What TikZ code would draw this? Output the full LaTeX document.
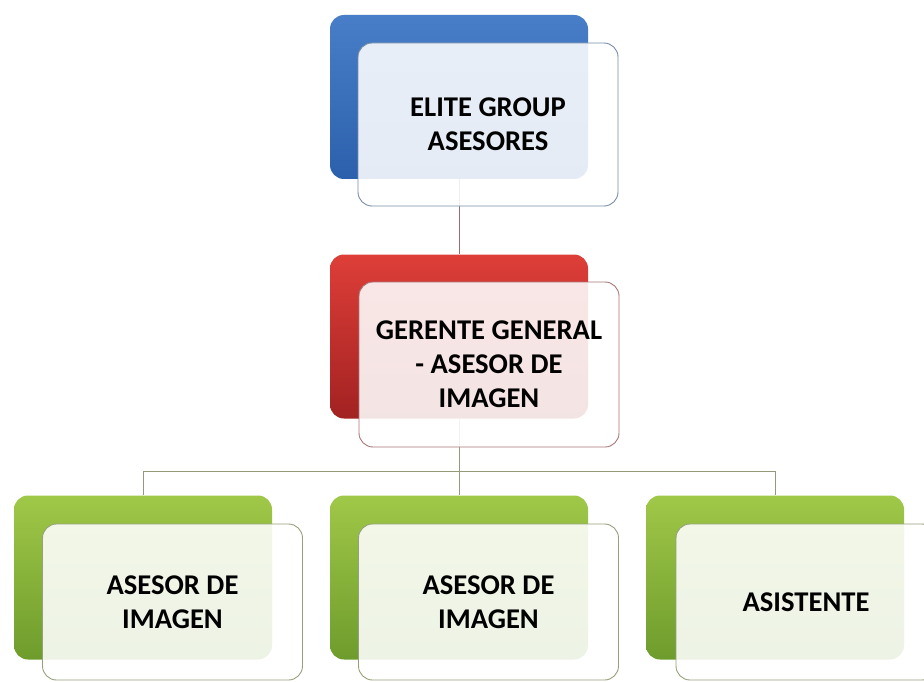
\documentclass[tikz,border=0pt]{standalone}
\usepackage{fontspec}
\setmainfont{Carlito}
\usepackage{xcolor}
\usepackage{tikz}

\definecolor{blueTop}{RGB}{72,126,200}
\definecolor{blueBot}{RGB}{44,96,172}
\definecolor{redTop}{RGB}{222,62,56}
\definecolor{redBot}{RGB}{162,34,34}
\definecolor{greenTop}{RGB}{160,200,72}
\definecolor{greenBot}{RGB}{110,156,44}
\definecolor{blueEdge}{RGB}{118,140,168}
\definecolor{redEdge}{RGB}{168,118,118}
\definecolor{greenEdge}{RGB}{150,160,122}
\definecolor{redLink}{RGB}{150,112,112}
\definecolor{greenLink}{RGB}{150,152,122}

\begin{document}
\begin{tikzpicture}[x=1pt, y=-1pt,
    back/.style={rounded corners=14pt, minimum width=258pt, minimum height=164pt, inner sep=0pt},
    front/.style={draw, line width=0.9pt, rounded corners=14pt, fill=white, fill opacity=0.88,
        text opacity=1, minimum width=260pt, align=center, inner sep=0pt,
        font=\fontsize{28.6}{34}\selectfont\bfseries},
    link/.style={line width=1pt}]
    \useasboundingbox (0,0) rectangle (924,682);

    % Back boxes
    \node[back, top color=blueTop, bottom color=blueBot] (eliteBack) at (459,97) {};
    \node[back, top color=redTop, bottom color=redBot] (gerenteBack) at (459,336.5) {};
    \node[back, top color=greenTop, bottom color=greenBot] (asesorOneBack) at (143,577.5) {};
    \node[back, top color=greenTop, bottom color=greenBot] (asesorTwoBack) at (459,577.5) {};
    \node[back, top color=greenTop, bottom color=greenBot] (asistenteBack) at (775,577.5) {};

    % Connectors
    \coordinate (bus) at (459,471);
    \draw[link, redLink] (eliteBack.south) -- (gerenteBack.north);
    \draw[link, greenLink] (gerenteBack.south) -- (bus) -| (asesorOneBack.north);
    \draw[link, greenLink] (bus) -| (asistenteBack.north);
    \draw[link, greenLink] (bus) -- (asesorTwoBack.north);

    % Front boxes
    \node[front, draw=blueEdge, minimum height=163pt] (elite) at (488,124.5) {ELITE GROUP\\ASESORES};
    \node[front, draw=redEdge, minimum height=165pt] (gerente) at (489,364.5) {GERENTE GENERAL\\- ASESOR DE\\IMAGEN};
    \node[front, draw=greenEdge, minimum height=156pt] (asesorOne) at (172.5,602) {ASESOR DE\\IMAGEN};
    \node[front, draw=greenEdge, minimum height=156pt] (asesorTwo) at (488.5,602) {ASESOR DE\\IMAGEN};
    \node[front, draw=greenEdge, minimum height=156pt] (asistente) at (806,602) {ASISTENTE};
\end{tikzpicture}
\end{document}
